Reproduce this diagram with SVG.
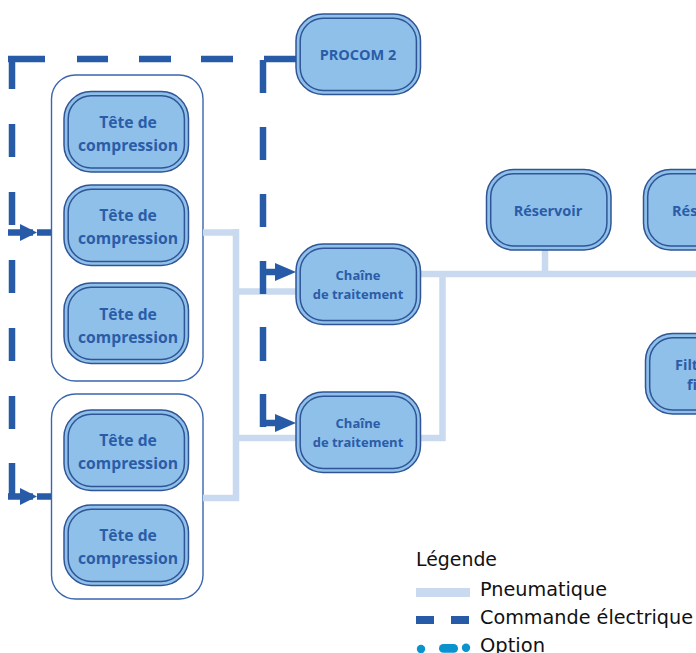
<svg xmlns="http://www.w3.org/2000/svg" width="696" height="653" viewBox="0 0 696 653">
<style>
text{font-family:"Open Sans","Noto Sans","Liberation Sans",sans-serif}
.o{fill:#8fc0e9;stroke:#2f5597;stroke-width:1.5}
.i{fill:none;stroke:#2f5597;stroke-width:1.5}
.g{fill:#fff;stroke:#3a66ad;stroke-width:1.4}
.t{font-weight:700;font-size:15.700px;fill:#2a5ca8;text-anchor:middle}
.s{font-weight:700;font-size:13px;fill:#2a5ca8;text-anchor:middle}
.m{font-weight:700;font-size:14.500px;fill:#2a5ca8;text-anchor:middle}
.st{font-weight:700;font-size:14.500px;fill:#2a5ca8}
.p{fill:none;stroke:#c9daf0;stroke-width:6.5}
.e{fill:none;stroke:#275ba8;stroke-width:6.5}
.a{fill:#275ba8}
.l{font-family:"DejaVu Sans",sans-serif;font-size:20px;fill:#111}
</style>
<defs>
<g id="box"><rect class="o" x="0.500" y="0.500" width="124.500" height="80.500" rx="27"/><rect class="i" x="4.700" y="4.700" width="116.200" height="72.200" rx="23"/></g>
</defs>
<g id="groupe-1"><rect class="g" x="51.500" y="75" width="151.500" height="306" rx="24"/></g>
<g id="groupe-2"><rect class="g" x="51.500" y="394" width="151.500" height="205" rx="24"/></g>
<g id="connectors">
<path class="p" d="M203 232.500H236M236 229V501M203 498H239M236 291.500H296M236 438H296M420 274H696M442.500 274V441M420 438H445M545 250V274"/>
<path class="e" d="M8 59H45M77 59H108M139 59H171M201 59H233M12 56V89M12 124V157M12 192V225M12 260V293M12 328V361M12 396V429M12 463V497M8 232.500H33M37 232.500H51M8 496.500H33M37 496.500H51"/>
<path class="e" d="M296 59H264M263 60V93M263 127V160M263 194V227M263 261V294M263 327V361M263 394V427M263 272H280M263 423H280"/>
<polygon class="a" points="20,224 37,232.500 20,241"/>
<polygon class="a" points="20,488 37,496.500 20,505"/>
<polygon class="a" points="275,263 296,272 275,281"/>
<polygon class="a" points="275,414 296,423 275,432"/>
</g>
<g id="procom"><use href="#box" x="295.500" y="13.500"/><text class="m" x="358" y="60">PROCOM 2</text></g>
<g id="tete-1"><use href="#box" x="63.500" y="91"/><text class="t" x="128" y="128">Tête de</text><text class="t" x="128" y="151">compression</text></g>
<g id="tete-2"><use href="#box" x="63.500" y="184.500"/><text class="t" x="128" y="221">Tête de</text><text class="t" x="128" y="244">compression</text></g>
<g id="tete-3"><use href="#box" x="63.500" y="282.500"/><text class="t" x="128" y="320">Tête de</text><text class="t" x="128" y="343">compression</text></g>
<g id="tete-4"><use href="#box" x="63.500" y="409.500"/><text class="t" x="128" y="446">Tête de</text><text class="t" x="128" y="469">compression</text></g>
<g id="tete-5"><use href="#box" x="63.500" y="504.500"/><text class="t" x="128" y="541">Tête de</text><text class="t" x="128" y="564">compression</text></g>
<g id="chaine-1"><use href="#box" x="295.500" y="243.500"/><text class="s" x="358" y="280">Chaîne</text><text class="s" x="358" y="299">de traitement</text></g>
<g id="chaine-2"><use href="#box" x="295.500" y="391.500"/><text class="s" x="358" y="428">Chaîne</text><text class="s" x="358" y="447">de traitement</text></g>
<g id="reservoir-1"><use href="#box" x="486" y="169"/><text class="m" x="548" y="216">Réservoir</text></g>
<g id="reservoir-2"><use href="#box" x="643" y="169"/><text class="st" x="672" y="216">Rés</text></g>
<g id="filtre"><use href="#box" x="645" y="333"/><text class="st" x="675" y="370">Filt</text><text class="st" x="687" y="390">fi</text></g>
<g id="legende">
<text class="l" x="416" y="566" textLength="81" lengthAdjust="spacingAndGlyphs">Légende</text>
<rect x="416" y="588" width="54" height="9" fill="#c9daf0"/>
<text class="l" x="480" y="596" textLength="127" lengthAdjust="spacingAndGlyphs">Pneumatique</text>
<rect x="416" y="616" width="18" height="8" fill="#275ba8"/><rect x="451" y="616" width="18" height="8" fill="#275ba8"/>
<text class="l" x="480" y="624" textLength="213" lengthAdjust="spacingAndGlyphs">Commande électrique</text>
<circle cx="421" cy="649" r="4.200" fill="#0a93cf"/><rect x="439" y="644" width="19" height="8.700" rx="4.300" fill="#0a93cf"/><circle cx="466" cy="647.700" r="4.200" fill="#0a93cf"/>
<text class="l" x="480" y="652" textLength="65" lengthAdjust="spacingAndGlyphs">Option</text>
</g>
</svg>
